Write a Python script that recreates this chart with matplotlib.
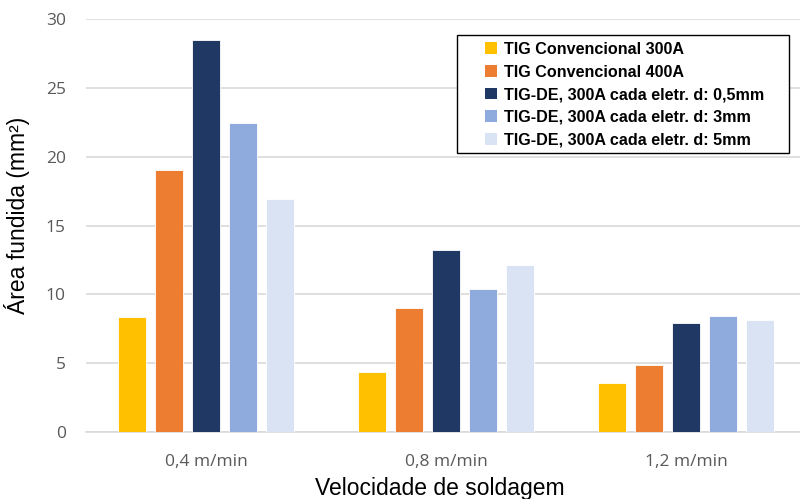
import numpy as np
import matplotlib
matplotlib.use("Agg")
import matplotlib.pyplot as plt
from matplotlib.patches import Rectangle

# Welding speed categories and fused area (mm²) per process
categories = ["0,4 m/min", "0,8 m/min", "1,2 m/min"]
series_names = [
    "TIG Convencional 300A",
    "TIG Convencional 400A",
    "TIG-DE, 300A cada eletr. d: 0,5mm",
    "TIG-DE, 300A cada eletr. d: 3mm",
    "TIG-DE, 300A cada eletr. d: 5mm",
]
tig_300 = [8.35, 4.35, 3.55]
tig_400 = [19.0, 9.0, 4.9]
tigde_05 = [28.5, 13.2, 7.9]
tigde_3 = [22.45, 10.4, 8.4]
tigde_5 = [16.95, 12.1, 8.15]
yticks = [0, 5, 10, 15, 20, 25, 30]

series = [tig_300, tig_400, tigde_05, tigde_3, tigde_5]
colors = ["#FFC000", "#ED7D31", "#203864", "#8FAADC", "#DAE3F3"]

W, H = 800, 499
fig = plt.figure(figsize=(W / 100, H / 100), dpi=100)
ax = fig.add_axes([86 / W, 67 / H, 714 / W, 413 / H])

x = np.arange(len(categories))
step = 0.154
width = 0.12
for i, (vals, col, name) in enumerate(zip(series, colors, series_names)):
    ax.bar(x + (i - 2) * step, vals, width=width, color=col, label=name,
           edgecolor="white", linewidth=0.6, zorder=3)

ax.set_xlim(-0.5, 2.475)
ax.set_ylim(0, 30)
ax.set_yticks(yticks)
ax.set_xticks(x)
ax.set_xticklabels(categories)

for s in ["top", "right", "left"]:
    ax.spines[s].set_visible(False)
ax.spines["bottom"].set_color("#D9D9D9")
ax.spines["bottom"].set_linewidth(1.2)
ax.grid(axis="y", color="#D9D9D9", linewidth=1.2, zorder=0)
ax.set_axisbelow(True)

ax.tick_params(axis="both", length=0, colors="#595959")
ax.tick_params(axis="y", labelsize=12.5, pad=14.5)
ax.tick_params(axis="x", labelsize=12.5, pad=16)
for lab in ax.get_xticklabels() + ax.get_yticklabels():
    lab.set_family("Open Sans")

# Axis titles
fig.text(17 / W, 1 - 215 / H, "Área fundida (mm²)", fontsize=16.5,
         family="Liberation Sans", rotation=90, ha="center", va="center")
fig.text(440 / W, 1 - 489 / H, "Velocidade de soldagem", fontsize=16.5,
         family="Liberation Sans", ha="center", va="center")

# Legend with a boxed frame drawn separately for wide side margins
leg = fig.legend(loc="upper left", bbox_to_anchor=(485 / W, 1 - 42 / H),
                 prop={"family": "Liberation Sans", "weight": "bold", "size": 11.6},
                 frameon=False, handlelength=0.75, handleheight=0.75,
                 handletextpad=0.4, labelspacing=0.47, borderpad=0,
                 borderaxespad=0)
for h in leg.legend_handles:
    h.set_edgecolor("none")
fig.patches.append(Rectangle((457 / W, 1 - 153 / H), 332 / W, 118 / H,
                             transform=fig.transFigure, facecolor="white",
                             edgecolor="black", linewidth=1.0, zorder=1))
leg.set_zorder(2)

fig.savefig("out.png", dpi=100)
